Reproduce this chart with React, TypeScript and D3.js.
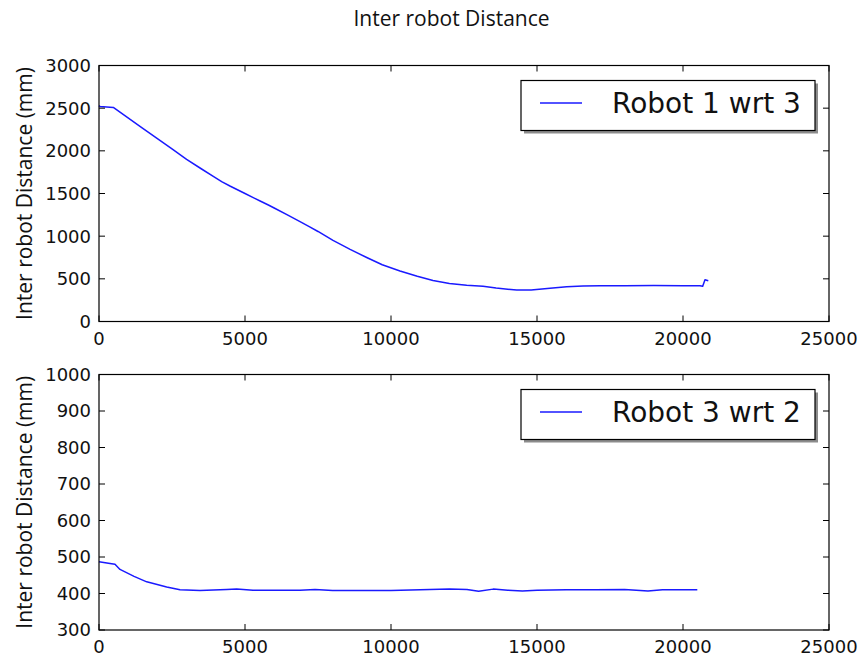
import React from 'react';
import * as d3 from 'd3';

// Robot 1 wrt 3 (top panel)
const r13X = [0, 34, 490, 1500, 2500, 3000, 3500, 3914, 4200, 4500, 5000, 5500, 5800, 6000, 6500, 6884, 7200, 7500, 8014, 8600, 9168, 9700, 10308, 10900, 11438, 12000, 12592, 13151, 13600, 14305, 14800, 15445, 16017, 16575, 17158, 18000, 19000, 20000, 20582, 20674, 20753, 20866];
const r13Y = [2530, 2519, 2508, 2264, 2022, 1901, 1790, 1700, 1640, 1585, 1500, 1415, 1365, 1330, 1240, 1170, 1112, 1055, 950, 845, 750, 665, 592, 530, 480, 445, 425, 412, 392, 368, 370, 391, 408, 415, 418, 420, 422, 420, 418, 412, 489, 477];

// Robot 3 wrt 2 (bottom panel)
const r32X = [0, 377, 548, 719, 1200, 1634, 2318, 2774, 3459, 4373, 4715, 5274, 6884, 7400, 8000, 9000, 10000, 11000, 12000, 12600, 13000, 13500, 14000, 14500, 15000, 16000, 17000, 18000, 18801, 19300, 20000, 20490];
const r32Y = [487, 482, 480, 466, 447, 432, 418, 410, 408, 411, 412, 409, 409, 411, 408, 408, 408, 410, 412, 411, 406, 412, 409, 407, 409, 410, 410, 411, 407, 410, 410, 410];

const xTicks = [0, 5000, 10000, 15000, 20000, 25000];
const yTicksTop = [0, 500, 1000, 1500, 2000, 2500, 3000];
const yTicksBottom = [300, 400, 500, 600, 700, 800, 900, 1000];

const W = 861;
const H = 660;
const left = 99;
const right = 829;
const tickFont = 'DejaVu Sans';
const labelFont = '"Open Sans"';

interface PanelProps {
  top: number;
  bottom: number;
  xs: number[];
  ys: number[];
  yDomain: [number, number];
  yTicks: number[];
  label: string;
}

const Panel: React.FC<PanelProps> = ({ top, bottom, xs, ys, yDomain, yTicks, label }) => {
  const x = d3.scaleLinear().domain([0, 25000]).range([left, right]);
  const y = d3.scaleLinear().domain(yDomain).range([bottom, top]);
  const pts: [number, number][] = xs.map((v, i) => [v, ys[i]]);
  const line = d3.line<[number, number]>()
    .x(d => x(d[0]))
    .y(d => y(d[1]));
  const tl = 6;

  // legend box
  const lx = 521, ly = top + 15, lw = 294, lh = 50;

  return (
    <g>
      <path d={line(pts) || ''} fill="none" stroke="#1a1aff" strokeWidth={1.5} strokeLinejoin="round" />
      {xTicks.map(t => (
        <g key={'x' + t}>
          <line x1={x(t)} x2={x(t)} y1={bottom} y2={bottom - tl} stroke="#000" />
          <line x1={x(t)} x2={x(t)} y1={top} y2={top + tl} stroke="#000" />
          <text x={x(t)} y={bottom + 23} textAnchor="middle" fontFamily={tickFont} fontSize={18} fill="#111">{t}</text>
        </g>
      ))}
      {yTicks.map(t => (
        <g key={'y' + t}>
          <line x1={left} x2={left + tl} y1={y(t)} y2={y(t)} stroke="#000" />
          <line x1={right} x2={right - tl} y1={y(t)} y2={y(t)} stroke="#000" />
          <text x={left - 8} y={y(t)} dy="0.36em" textAnchor="end" fontFamily={tickFont} fontSize={18} fill="#111">{t}</text>
        </g>
      ))}
      <rect x={left} y={top} width={right - left} height={bottom - top} fill="none" stroke="#000" strokeWidth={1.2} />
      <text
        transform={`translate(31.5,${(top + bottom) / 2}) rotate(-90)`}
        textAnchor="middle"
        fontFamily={labelFont}
        fontSize={21}
        fill="#111"
      >Inter robot Distance (mm)</text>

      <rect x={lx + 3} y={ly + 3} width={lw} height={lh} fill="#8c8c8c" />
      <rect x={lx} y={ly} width={lw} height={lh} fill="#fff" stroke="#000" strokeWidth={1.2} />
      <line x1={540} x2={582} y1={ly + 22.5} y2={ly + 22.5} stroke="#1a1aff" strokeWidth={1.5} />
      <text x={612} y={ly + 32.5} fontFamily={tickFont} fontSize={28} fill="#111">{label}</text>
    </g>
  );
};

export default function App() {
  return (
    <svg width={W} height={H} style={{ position: 'absolute', left: 0, top: 0, background: '#fff' }}>
      <rect x={0} y={0} width={W} height={H} fill="#fff" />
      <text x={451.5} y={26} textAnchor="middle" fontFamily={labelFont} fontSize={21} fill="#111">Inter robot Distance</text>
      <Panel top={65.5} bottom={321.5} xs={r13X} ys={r13Y} yDomain={[0, 3000]} yTicks={yTicksTop} label="Robot 1 wrt 3" />
      <Panel top={374.5} bottom={630} xs={r32X} ys={r32Y} yDomain={[300, 1000]} yTicks={yTicksBottom} label="Robot 3 wrt 2" />
    </svg>
  );
}
